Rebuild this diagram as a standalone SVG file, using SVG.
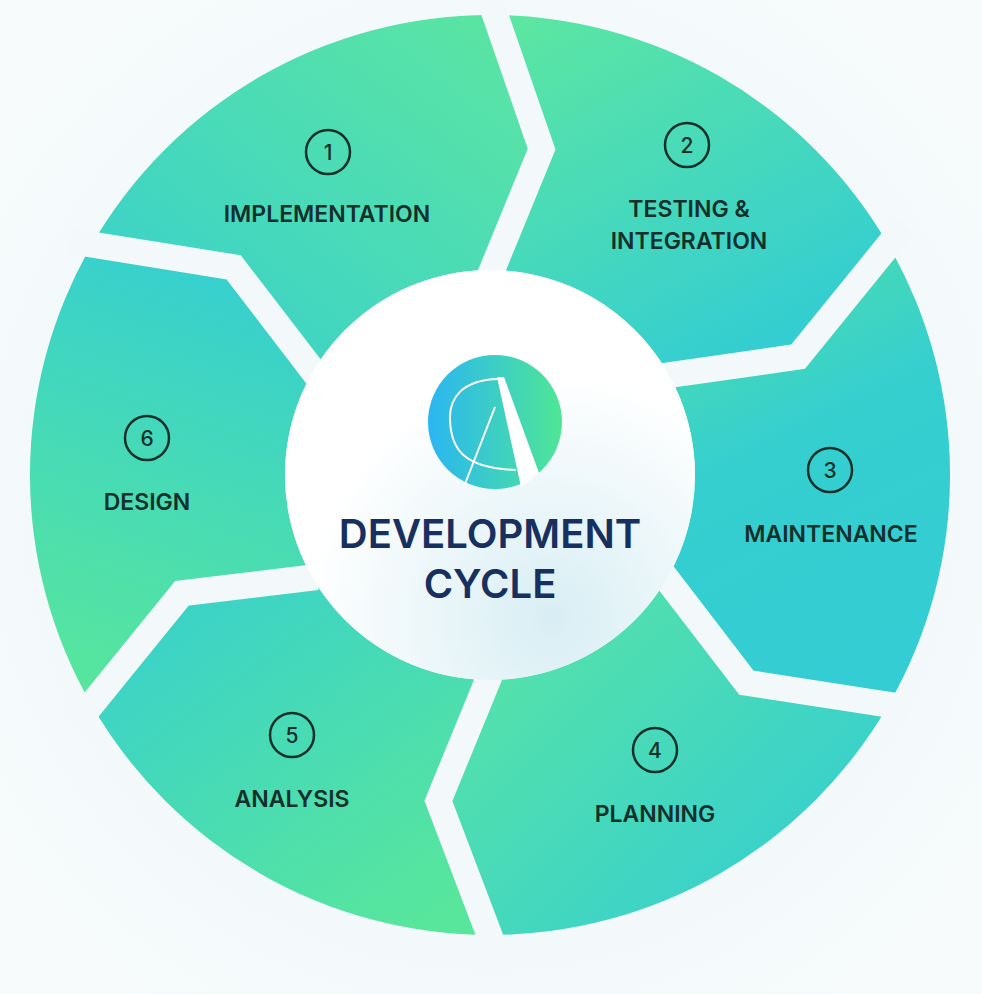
<svg xmlns="http://www.w3.org/2000/svg" width="982" height="994" viewBox="0 0 982 994">
<defs>
<radialGradient id="bg" cx="0.5" cy="0.5" r="0.7"><stop offset="0" stop-color="#eaf6f8"/><stop offset="1" stop-color="#f8fbfc"/></radialGradient>
<linearGradient id="g1" x1="1" y1="0" x2="0" y2="1"><stop offset="0" stop-color="#5de6a0"/><stop offset="1" stop-color="#36cfcf"/></linearGradient>
<linearGradient id="g2" x1="0" y1="0" x2="0.6" y2="1"><stop offset="0" stop-color="#5ee7a0"/><stop offset="1" stop-color="#33cdd2"/></linearGradient>
<linearGradient id="g3" x1="0" y1="0" x2="0.3" y2="1"><stop offset="0" stop-color="#4fe0a5"/><stop offset="0.5" stop-color="#36cfcf"/><stop offset="1" stop-color="#33cdd3"/></linearGradient>
<linearGradient id="g4" x1="0" y1="0" x2="1" y2="0.8"><stop offset="0" stop-color="#5ce6a0"/><stop offset="1" stop-color="#33cdd3"/></linearGradient>
<linearGradient id="g5" x1="0" y1="0" x2="0.8" y2="1"><stop offset="0" stop-color="#36cfcf"/><stop offset="1" stop-color="#58e69c"/></linearGradient>
<linearGradient id="g6" x1="0.5" y1="0" x2="0.3" y2="1"><stop offset="0" stop-color="#36cfcf"/><stop offset="1" stop-color="#58e69c"/></linearGradient>
<linearGradient id="logo" x1="0" y1="0" x2="1" y2="0"><stop offset="0" stop-color="#2ab6f2"/><stop offset="1" stop-color="#4fe696"/></linearGradient>
<radialGradient id="hub" cx="0.65" cy="0.85" r="0.6"><stop offset="0" stop-color="#d8eef4"/><stop offset="1" stop-color="#ffffff"/></radialGradient>
</defs>
<style>
.gap{fill:none;stroke:#f3f9fa;stroke-width:26;stroke-linejoin:miter}
.num{fill:none;stroke:#15302a;stroke-width:2.5}
.nt{font-family:Inter,"Liberation Sans",sans-serif;font-size:21px;font-weight:500;fill:#15302a;text-anchor:middle}
.lb{font-family:Inter,"Liberation Sans",sans-serif;font-size:23px;font-weight:600;fill:#15302a;text-anchor:middle}
.tt{font-family:Inter,"Liberation Sans",sans-serif;font-size:40px;font-weight:600;fill:#17305f;text-anchor:middle}
.lw{fill:none;stroke:#fff;stroke-width:2}
</style>
<rect width="982" height="994" fill="url(#bg)"/>
<g id="seg1"><path d="M91.6,245 A460,460 0 0 1 490,15 L541.6,149.1 L490,270 A205,205 0 0 0 312.5,372.5 L233.6,267.3 Z" fill="url(#g1)"/></g>
<g id="seg2"><path d="M490,15 A460,460 0 0 1 888.4,245 L798.1,356.7 L667.5,372.5 A205,205 0 0 0 490,270 L541.6,149.1 Z" fill="url(#g2)"/></g>
<g id="seg3"><path d="M888.4,245 A460,460 0 0 1 888.4,705 L746.4,682.7 L667.5,577.5 A205,205 0 0 0 667.5,372.5 L798.1,356.7 Z" fill="url(#g3)"/></g>
<g id="seg4"><path d="M888.4,705 A460,460 0 0 1 490,935 L438.4,800.9 L490,680 A205,205 0 0 0 667.5,577.5 L746.4,682.7 Z" fill="url(#g4)"/></g>
<g id="seg5"><path d="M490,935 A460,460 0 0 1 91.6,705 L181.9,593.3 L312.5,577.5 A205,205 0 0 0 490,680 L438.4,800.9 Z" fill="url(#g5)"/></g>
<g id="seg6"><path d="M91.6,705 A460,460 0 0 1 91.6,245 L233.6,267.3 L312.5,372.5 A205,205 0 0 0 312.5,577.5 L181.9,593.3 Z" fill="url(#g6)"/></g>
<g id="connectors">
<polyline class="gap" points="490,0 541.6,149.1 490,275"/>
<polyline class="gap" points="905,225 798.1,356.7 663,376"/>
<polyline class="gap" points="910,708 746.4,682.7 663,574"/>
<polyline class="gap" points="497,955 438.4,800.9 490,675"/>
<polyline class="gap" points="75,725 181.9,593.3 317,577"/>
<polyline class="gap" points="70,241 233.6,267.3 317,376"/>
</g>
<g id="hub">
<circle cx="490" cy="475" r="205" fill="url(#hub)"/>
<circle cx="495" cy="422" r="67" fill="url(#logo)"/>
<path class="lw" d="M498,379 C462,380 449,398 450,420 C451,448 462,468 516,470"/>
<path class="lw" d="M495,407 L465,484"/>
<polygon points="497,377 504,377 539,473 521,487" fill="#fff"/>
<text class="tt" x="490" y="548">DEVELOPMENT</text>
<text class="tt" x="490" y="598">CYCLE</text>
</g>
<g id="n1"><circle class="num" cx="328" cy="152" r="22"/><text class="nt" x="328" y="160">1</text><text class="lb" x="327" y="222">IMPLEMENTATION</text></g>
<g id="n2"><circle class="num" cx="687" cy="145" r="22"/><text class="nt" x="687" y="153">2</text><text class="lb" x="689" y="217">TESTING &amp;</text><text class="lb" x="689" y="249">INTEGRATION</text></g>
<g id="n3"><circle class="num" cx="830" cy="470" r="22"/><text class="nt" x="830" y="478">3</text><text class="lb" x="831" y="542">MAINTENANCE</text></g>
<g id="n4"><circle class="num" cx="655" cy="750" r="22"/><text class="nt" x="655" y="758">4</text><text class="lb" x="655" y="822">PLANNING</text></g>
<g id="n5"><circle class="num" cx="292" cy="735" r="22"/><text class="nt" x="292" y="743">5</text><text class="lb" x="292" y="807">ANALYSIS</text></g>
<g id="n6"><circle class="num" cx="147" cy="438" r="22"/><text class="nt" x="147" y="446">6</text><text class="lb" x="147" y="510">DESIGN</text></g>
</svg>
